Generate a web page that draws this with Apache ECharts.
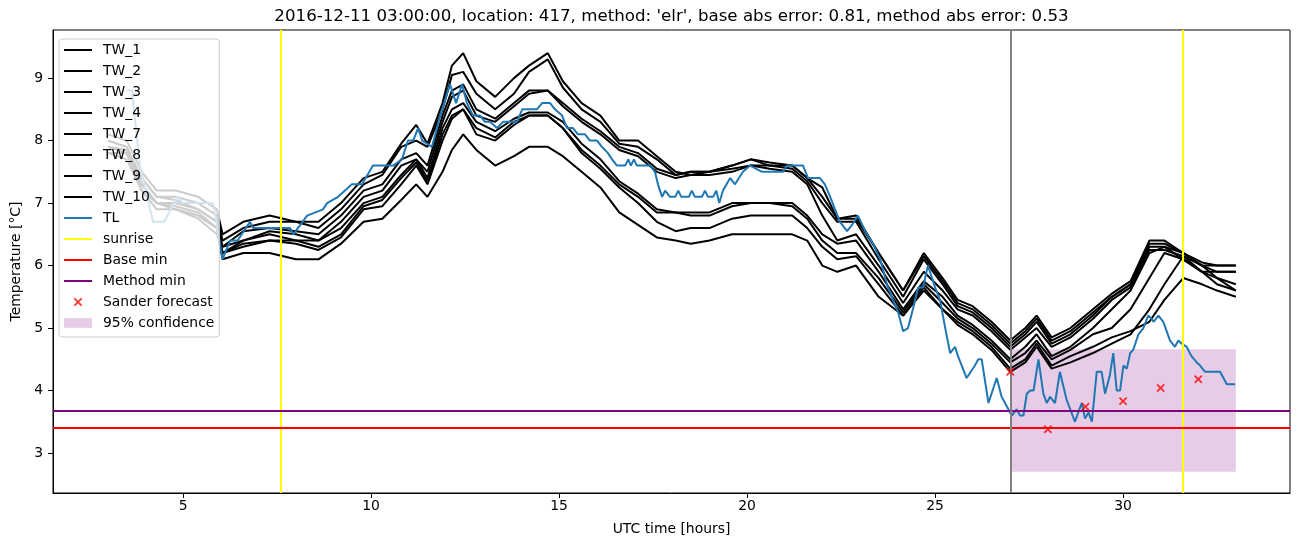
<!DOCTYPE html>
<html><head><meta charset="utf-8">
<script src="https://cdn.jsdelivr.net/npm/echarts@6/dist/echarts.min.js"></script>
<style>html,body{margin:0;padding:0;background:#fff;}#c{width:1302px;height:547px;}</style>
</head><body><div id="c"></div>
<script>
// ---------------- data ----------------
const twTimes = [3.0, 3.5, 3.9, 4.3, 4.8, 5.4, 5.9, 6.05, 6.6, 7.3, 8.0, 8.6, 9.2, 9.8, 10.3, 10.8,
  11.2, 11.5, 11.9, 12.15, 12.45, 12.8, 13.3, 13.8, 14.2, 14.7, 15.1, 15.6, 16.1, 16.6, 17.1, 17.6,
  18.1, 18.5, 19.0, 19.6, 20.1, 20.6, 21.2, 21.6, 22.0, 22.4, 22.9, 23.5, 24.15, 24.7, 25.2, 25.6,
  26.0, 26.5, 27.0, 27.4, 27.7, 28.1, 28.6, 29.2, 29.7, 30.2, 30.7, 31.1, 31.6, 32.1, 32.5, 33.0];

const tw_1 = [8.1, 8.0, 7.5, 7.2, 7.2, 7.1, 6.9, 6.5, 6.7, 6.8, 6.7, 6.7, 7.0, 7.4, 7.5, 7.95,
  8.25, 7.95, 8.6, 9.2, 9.4, 8.95, 8.7, 9.0, 9.2, 9.4, 8.95, 8.6, 8.4, 8.0, 8.0, 7.75,
  7.5, 7.45, 7.5, 7.6, 7.7, 7.65, 7.6, 7.4, 7.25, 6.75, 6.8, 6.2, 5.6, 6.2, 5.8, 5.45,
  5.35, 5.1, 4.8, 5.0, 5.2, 4.85, 5.0, 5.3, 5.55, 5.75, 6.4, 6.4, 6.2, 6.05, 6.0, 6.0];
const tw_2 = [8.0, 7.9, 7.3, 7.0, 7.0, 6.9, 6.7, 6.3, 6.55, 6.6, 6.55, 6.5, 6.8, 7.2, 7.3, 7.7,
  7.8, 7.6, 8.4, 8.8, 8.9, 8.5, 8.35, 8.6, 8.8, 8.8, 8.6, 8.35, 8.15, 7.9, 7.8, 7.55,
  7.45, 7.5, 7.5, 7.55, 7.6, 7.6, 7.55, 7.35, 7.0, 6.7, 6.7, 6.1, 5.5, 6.1, 5.7, 5.35,
  5.25, 5.0, 4.7, 4.9, 5.1, 4.75, 4.9, 5.2, 5.5, 5.7, 6.3, 6.3, 6.2, 6.0, 6.0, 6.0];
const tw_3 = [7.9, 7.8, 7.2, 7.0, 6.95, 6.85, 6.6, 6.3, 6.4, 6.5, 6.4, 6.4, 6.6, 7.0, 7.1, 7.45,
  7.7, 7.4, 8.2, 8.5, 8.6, 8.3, 8.15, 8.35, 8.45, 8.45, 8.3, 7.95, 7.7, 7.35, 7.15, 6.9,
  6.85, 6.85, 6.85, 7.0, 7.0, 7.0, 7.0, 6.8, 6.5, 6.35, 6.4, 5.9, 5.3, 5.75, 5.5, 5.2,
  5.05, 4.8, 4.5, 4.7, 4.9, 4.55, 4.7, 5.0, 5.3, 5.6, 6.2, 6.3, 6.1, 5.9, 5.8, 5.7];
const tw_4 = [7.9, 7.8, 7.3, 7.0, 6.9, 6.8, 6.6, 6.1, 6.2, 6.2, 6.1, 6.1, 6.35, 6.7, 6.75, 7.05,
  7.3, 7.1, 7.5, 7.85, 8.1, 7.85, 7.6, 7.75, 7.9, 7.9, 7.75, 7.5, 7.25, 6.85, 6.65, 6.45,
  6.4, 6.35, 6.4, 6.5, 6.5, 6.5, 6.5, 6.4, 6.0, 5.9, 6.0, 5.5, 5.2, 5.6, 5.3, 5.05,
  4.9, 4.65, 4.3, 4.45, 4.7, 4.35, 4.45, 4.6, 4.75, 4.9, 5.3, 5.7, 6.15, 6.0, 5.8, 5.6];
const tw_7 = [8.0, 7.9, 7.4, 7.1, 7.1, 7.0, 6.8, 6.4, 6.6, 6.7, 6.7, 6.6, 6.9, 7.3, 7.45, 7.9,
  8.0, 7.9, 8.5, 9.05, 9.1, 8.75, 8.5, 8.75, 9.1, 9.3, 8.85, 8.5, 8.3, 7.95, 7.9, 7.7,
  7.45, 7.5, 7.5, 7.6, 7.7, 7.6, 7.6, 7.4, 7.1, 6.75, 6.75, 6.2, 5.6, 6.15, 5.75, 5.4,
  5.3, 5.05, 4.75, 4.95, 5.15, 4.8, 4.95, 5.25, 5.5, 5.7, 6.35, 6.35, 6.2, 6.0, 5.9, 5.9];
const tw_8 = [7.9, 7.85, 7.4, 7.1, 7.05, 6.9, 6.7, 6.2, 6.4, 6.55, 6.5, 6.4, 6.7, 7.1, 7.2, 7.6,
  7.7, 7.5, 8.3, 8.7, 8.8, 8.4, 8.3, 8.55, 8.75, 8.8, 8.55, 8.3, 8.1, 7.85, 7.75, 7.5,
  7.4, 7.45, 7.45, 7.5, 7.6, 7.55, 7.5, 7.3, 6.8, 6.4, 6.5, 6.0, 5.4, 5.9, 5.6, 5.3,
  5.2, 4.95, 4.65, 4.85, 5.0, 4.7, 4.85, 5.15, 5.45, 5.65, 6.25, 6.25, 6.15, 5.9, 5.7, 5.6];
const tw_9 = [7.8, 7.8, 7.3, 7.0, 6.9, 6.8, 6.6, 6.2, 6.35, 6.4, 6.4, 6.3, 6.5, 6.95, 7.05, 7.4,
  7.65, 7.35, 8.1, 8.4, 8.5, 8.2, 8.05, 8.3, 8.4, 8.4, 8.2, 7.85, 7.6, 7.3, 7.1, 6.85,
  6.85, 6.8, 6.8, 6.95, 7.0, 7.0, 6.95, 6.75, 6.4, 6.2, 6.2, 5.8, 5.25, 5.7, 5.4, 5.15,
  5.0, 4.75, 4.45, 4.6, 4.8, 4.5, 4.65, 4.9, 5.0, 5.3, 5.8, 6.2, 6.1, 5.9, 5.9, 5.9];
const tw_10 = [7.8, 7.7, 7.2, 6.9, 6.9, 6.75, 6.5, 6.2, 6.3, 6.4, 6.35, 6.25, 6.45, 6.9, 6.95, 7.3,
  7.6, 7.3, 8.0, 8.35, 8.5, 8.1, 8.0, 8.25, 8.4, 8.4, 8.2, 7.8, 7.55, 7.25, 7.0, 6.7,
  6.55, 6.6, 6.6, 6.75, 6.8, 6.8, 6.8, 6.6, 6.3, 6.1, 6.15, 5.7, 5.2, 5.65, 5.3, 5.1,
  4.95, 4.7, 4.35, 4.5, 4.75, 4.4, 4.55, 4.7, 4.85, 4.95, 5.1, 5.45, 5.8, 5.7, 5.6, 5.5];

const twNames = ['TW_1', 'TW_2', 'TW_3', 'TW_4', 'TW_7', 'TW_8', 'TW_9', 'TW_10'];
const twValues = [tw_1, tw_2, tw_3, tw_4, tw_7, tw_8, tw_9, tw_10];

const tlPoints = [[3.5,8.8],[3.64,8.8],[3.85,7.6],[4.2,6.7],[4.5,6.7],[4.85,7.1],[5.0,7.0],[5.8,7.0],
  [6.05,6.1],[6.25,6.4],[6.45,6.4],[6.78,6.7],[6.86,6.6],[7.85,6.6],[7.93,6.5],[8.3,6.8],[8.72,6.9],
  [8.83,7.0],[9.12,7.1],[9.49,7.3],[9.76,7.3],[10.05,7.6],[10.59,7.6],[10.82,7.7],[10.98,8.0],[11.12,8.0],
  [11.25,8.2],[11.36,8.0],[11.62,7.9],[11.84,8.4],[12.1,8.9],[12.26,8.6],[12.42,8.9],[12.55,8.6],[12.71,8.4],
  [12.9,8.4],[13.03,8.3],[13.16,8.3],[13.35,8.2],[13.51,8.3],[13.88,8.3],[14.02,8.5],[14.41,8.5],[14.55,8.6],
  [14.76,8.6],[14.89,8.5],[15.08,8.4],[15.21,8.2],[15.37,8.2],[15.5,8.1],[15.69,8.1],[15.82,8.0],[16.01,8.0],
  [16.14,7.9],[16.3,7.8],[16.41,7.7],[16.54,7.6],[16.76,7.6],[16.84,7.7],[16.91,7.6],[16.99,7.7],[17.07,7.6],
  [17.42,7.6],[17.55,7.5],[17.63,7.3],[17.74,7.1],[17.82,7.2],[17.95,7.1],[18.09,7.1],[18.17,7.2],[18.25,7.1],
  [18.45,7.1],[18.53,7.2],[18.61,7.1],[18.8,7.1],[18.88,7.2],[18.96,7.1],[19.1,7.1],[19.18,7.2],[19.26,7.0],
  [19.36,7.2],[19.55,7.4],[19.68,7.3],[19.89,7.5],[20.08,7.6],[20.4,7.5],[20.96,7.5],[21.06,7.6],[21.49,7.6],
  [21.62,7.4],[21.94,7.4],[22.07,7.3],[22.21,7.1],[22.47,6.7],[22.66,6.55],[22.79,6.65],[22.95,6.8],[23.14,6.55],
  [23.35,6.35],[23.54,6.1],[23.72,5.7],[23.88,5.45],[24.02,5.25],[24.15,4.95],[24.28,5.0],[24.41,5.3],[24.55,5.65],
  [24.68,5.65],[24.81,6.0],[25.0,5.65],[25.13,5.45],[25.27,5.0],[25.4,4.6],[25.53,4.7],[25.61,4.55],[25.84,4.2],
  [26.06,4.4],[26.15,4.5],[26.24,4.5],[26.42,3.8],[26.64,4.2],[26.77,3.9],[26.95,3.7],[27.04,3.6],[27.17,3.7],
  [27.26,3.6],[27.35,3.6],[27.44,3.95],[27.53,4.0],[27.62,4.0],[27.75,4.5],[27.88,3.95],[27.97,3.8],[28.06,3.9],
  [28.19,3.8],[28.32,4.3],[28.5,3.85],[28.72,3.5],[28.9,3.8],[28.99,3.55],[29.08,3.65],[29.17,3.5],[29.3,4.3],
  [29.43,4.3],[29.52,3.95],[29.65,4.25],[29.74,4.6],[29.83,4.0],[29.92,4.0],[30.01,4.4],[30.1,4.35],[30.19,4.6],
  [30.27,4.65],[30.41,4.9],[30.54,5.0],[30.67,5.2],[30.76,5.15],[30.81,5.1],[30.94,5.2],[31.07,5.1],[31.25,4.8],
  [31.38,4.7],[31.47,4.8],[31.56,4.75],[31.69,4.7],[31.82,4.55],[31.96,4.45],[32.05,4.4],[32.18,4.3],[32.58,4.3],
  [32.76,4.1],[32.98,4.1]];

const sunriseHours = [7.6, 31.6];
const forecastHour = 27.0;
const baseMin = 3.4;
const methodMin = 3.68;
const sanderForecast = [[27, 4.3], [28, 3.38], [29, 3.74], [30, 3.83], [31, 4.04], [32, 4.18]];
const confidenceBox = [27.0, 33.0, 2.7, 4.66]; // x0, x1, y0, y1
const xTickValues = [5, 10, 15, 20, 25, 30];
const yTickValues = [3, 4, 5, 6, 7, 8, 9];
const titleText = "2016-12-11 03:00:00, location: 417, method: 'elr', base abs error: 0.81, method abs error: 0.53";

// ---------------- chart ----------------
const FONT = 'DejaVu Sans';
const FS = 13.9;
const LINE_ICON = 'path://M0,0 M28,14 M0,6 L28,6 L28,8 L0,8 Z';
const PATCH_ICON = 'path://M0,0 M28,14 M0,2.2 L28,2.2 L28,11.8 L0,11.8 Z';
const X_ICON = 'path://M0,0 M28,14 M9.8,4.05 L11.05,2.8 L14,5.75 L16.95,2.8 L18.2,4.05 L15.25,7 L18.2,9.95 L16.95,11.2 L14,8.25 L11.05,11.2 L9.8,9.95 L12.75,7 Z';

const chart = echarts.init(document.getElementById('c'), null, {renderer: 'canvas'});

const series = [];
twNames.forEach((n, i) => {
  series.push({
    name: n, type: 'line', data: twTimes.map((t, j) => [t, twValues[i][j]]),
    showSymbol: false, symbol: 'none', z: 2,
    itemStyle: {color: '#000000'}, lineStyle: {color: '#000000', width: 2}
  });
});
series.push({
  name: 'TL', type: 'line', data: tlPoints, showSymbol: false, symbol: 'none', z: 3,
  itemStyle: {color: '#1f77b4'}, lineStyle: {color: '#1f77b4', width: 2}
});
function vmark(name, color, lines, z) {
  return {
    name: name, type: 'line', data: [], z: z, itemStyle: {color: color}, lineStyle: {color: color, width: 2},
    markLine: {silent: true, symbol: ['none', 'none'], label: {show: false}, animation: false,
      lineStyle: {color: color, width: 2, type: 'solid'}, emphasis: {disabled: true}, data: lines}
  };
}
series.push(vmark('sunrise', '#ffff00', sunriseHours.map(h => ({xAxis: h})), 4));
series.push(vmark('Base min', '#ff0000', [{yAxis: baseMin}], 4));
series.push(vmark('Method min', '#800080', [{yAxis: methodMin}], 4));
series.push(vmark('forecast', '#808080', [{xAxis: forecastHour}], 4));
series.push({
  name: 'Sander forecast', type: 'scatter', data: sanderForecast, symbol: X_ICON, symbolSize: [28, 14],
  itemStyle: {color: '#ff0000'}, z: 5
});
series.push({
  name: '95% confidence', type: 'custom', z: 1,
  itemStyle: {color: 'rgba(128,0,128,0.2)'},
  encode: {x: [0, 1], y: [2, 3]},
  data: [confidenceBox],
  renderItem: function (params, api) {
    const p0 = api.coord([api.value(0), api.value(3)]);
    const p1 = api.coord([api.value(1), api.value(2)]);
    return {type: 'rect', shape: {x: p0[0], y: p0[1], width: p1[0] - p0[0], height: p1[1] - p0[1]},
      style: {fill: 'rgba(128,0,128,0.2)'}};
  }
});

const legendData = twNames.map(n => ({name: n, icon: LINE_ICON}))
  .concat([
    {name: 'TL', icon: LINE_ICON},
    {name: 'sunrise', icon: LINE_ICON},
    {name: 'Base min', icon: LINE_ICON},
    {name: 'Method min', icon: LINE_ICON},
    {name: 'Sander forecast', icon: X_ICON},
    {name: '95% confidence', icon: PATCH_ICON}
  ]);

chart.setOption({
  animation: false,
  backgroundColor: '#ffffff',
  textStyle: {fontFamily: FONT},
  grid: {left: 53, top: 30, right: 12, bottom: 54, show: true, borderColor: '#000', borderWidth: 1, backgroundColor: 'transparent'},
  graphic: [{
    type: 'text', x: 671.5, y: 17, z: 100,
    style: {text: titleText, font: '16.67px "DejaVu Sans"', fill: '#000', textAlign: 'center', textVerticalAlign: 'middle'}
  }],
  legend: {
    orient: 'vertical', left: 59, top: 39, padding: [4, 5, 7, 5],
    itemWidth: 28, itemHeight: 14, itemGap: 7, z: 10,
    backgroundColor: 'rgba(255,255,255,0.8)', borderColor: '#cccccc', borderWidth: 1, borderRadius: 3,
    itemStyle: {borderWidth: 0},
    textStyle: {fontFamily: FONT, fontSize: FS, color: '#000', padding: [0, 0, 0, 6]},
    selectedMode: false,
    data: legendData
  },
  xAxis: {
    type: 'value', min: 1.54, max: 34.44,
    name: 'UTC time [hours]', nameLocation: 'middle', nameGap: 29,
    nameTextStyle: {fontFamily: FONT, fontSize: FS, color: '#000'},
    axisLine: {show: true, onZero: false, lineStyle: {color: '#000', width: 1}},
    axisTick: {show: true, length: 5, lineStyle: {color: '#000', width: 1}, customValues: xTickValues},
    axisLabel: {color: '#000', fontFamily: FONT, fontSize: FS, margin: 6, customValues: xTickValues,
      formatter: v => (Math.abs(v / 5 - Math.round(v / 5)) < 1e-6 ? String(Math.round(v)) : '')},
    splitLine: {show: false}
  },
  yAxis: {
    type: 'value', min: 2.36, max: 9.77,
    name: 'Temperature [°C]', nameLocation: 'middle', nameGap: 28, nameRotate: 90,
    nameTextStyle: {fontFamily: FONT, fontSize: FS, color: '#000'},
    axisLine: {show: true, onZero: false, lineStyle: {color: '#000', width: 1}},
    axisTick: {show: true, length: 5, lineStyle: {color: '#000', width: 1}, customValues: yTickValues},
    axisLabel: {color: '#000', fontFamily: FONT, fontSize: FS, margin: 10, customValues: yTickValues,
      formatter: v => (Math.abs(v - Math.round(v)) < 1e-6 ? String(Math.round(v)) : '')},
    splitLine: {show: false}
  },
  series: series
});
</script>
</body></html>
